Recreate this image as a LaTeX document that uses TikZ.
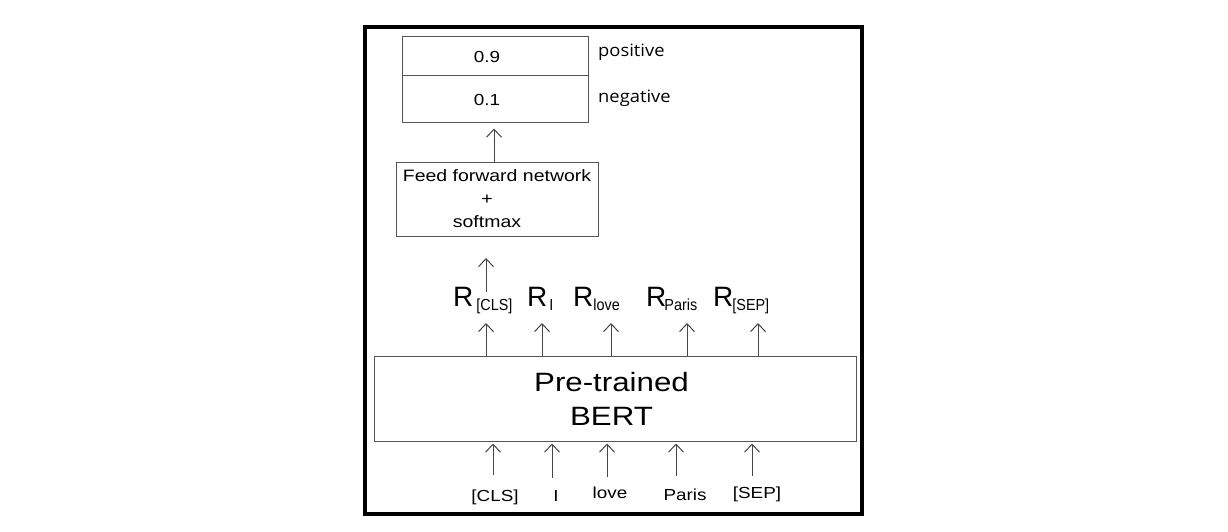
\documentclass[tikz,border=0pt]{standalone}
\usepackage{fontspec}
\setmainfont[FakeStretch=1.18]{Liberation Sans}
\newfontfamily\plainfont{Liberation Sans}
\newfontfamily\subfont[FakeStretch=0.9]{Liberation Sans}
\newfontfamily\lblfont[FakeStretch=1.08]{Open Sans}
\usetikzlibrary{arrows.meta}
\definecolor{boxgray}{RGB}{85,85,85}
\definecolor{linegray}{RGB}{70,70,70}
\newcommand\fs[2]{\fontsize{#1}{#2}\selectfont}
\newcommand\Rlab[2][0pt]{{\plainfont\fs{28}{28}R}\kern#1\raisebox{-4pt}{\subfont\fs{16}{16}#2}}
\newcommand\gap[1]{\rule{#1}{0pt}}
\tikzset{
  box/.style={draw=boxgray, line width=1pt, inner sep=0pt},
  arr/.style={draw=linegray, line width=1pt, -{Straight Barb[length=8pt,width=15pt,line width=1pt]}},
  rlab/.style={anchor=base west, inner sep=0pt},
  tok/.style={anchor=base, inner sep=0pt, font=\fs{16}{16}},
}
\begin{document}
\begin{tikzpicture}[x=1pt,y=-1pt]
\useasboundingbox (0,0) rectangle (1228,532);
\fill[white] (0,0) rectangle (1228,532);
\draw[line width=4pt] (364.5,27) rectangle (862,514);
% output box
\node[box, minimum width=186pt, minimum height=39pt, font=\fs{16}{16}] (pos) at (495,56.5) {0.9\gap{16pt}};
\node[box, minimum width=186pt, minimum height=47pt, font=\fs{16}{16}] (neg) at (495,99.5) {0.1\gap{16pt}};
\node[anchor=west, inner sep=0pt, font=\lblfont\fs{17}{17}] (lpos) at (598,52) {positive};
\node[anchor=west, inner sep=0pt, font=\lblfont\fs{17}{17}] (lneg) at (598,98) {negative};
% FFN
\node[box, minimum width=202pt, minimum height=74pt, align=center, font=\fs{16.5}{23}] (ffn) at (497,199)
  {Feed forward network\\+\gap{20pt}\\softmax\gap{20pt}};
\draw[arr, shorten >=5pt] (ffn.north -| 494,0) -- (neg.south -| 494,0);
% BERT
\node[box, minimum width=482pt, minimum height=85pt, align=center, font=\fs{26.5}{34}] (bert) at (615,398.5)
  {Pre-trained\gap{7pt}\\BERT\gap{7pt}};
% R labels
\node[rlab] (r1) at (453,306) {\Rlab[3pt]{[CLS]}};
\node[rlab] (r2) at (527,306) {\Rlab[2pt]{I}};
\node[rlab] (r3) at (573,306) {\Rlab{love}};
\node[rlab] (r4) at (646,306) {\Rlab[-2pt]{Paris}};
\node[rlab] (r5) at (713,306) {\Rlab[-1pt]{[SEP]}};
\coordinate (c0) at (486,258);
\coordinate (c0b) at (486,292);
\draw[arr] (c0b) -- (c0);
\foreach \i/\x in {1/486,2/542,3/611,4/687,5/758}{
  \coordinate (c\i) at (\x,323);
  \draw[arr] (bert.north -| c\i) -- (c\i);
}
% tokens
\node[tok] (t1) at (495,501) {[CLS]};
\node[tok] (t2) at (556,501) {I};
\node[tok] (t3) at (610,498) {love};
\node[tok] (t4) at (685,500) {Paris};
\node[tok] (t5) at (757,498) {[SEP]};
\foreach \i/\x/\y in {1/493/475,2/552/478,3/607/477,4/676/476,5/752/476}{
  \coordinate (b\i) at (\x,\y);
  \draw[arr, shorten >=2pt] (b\i) -- (bert.south -| b\i);
}
\end{tikzpicture}
\end{document}
